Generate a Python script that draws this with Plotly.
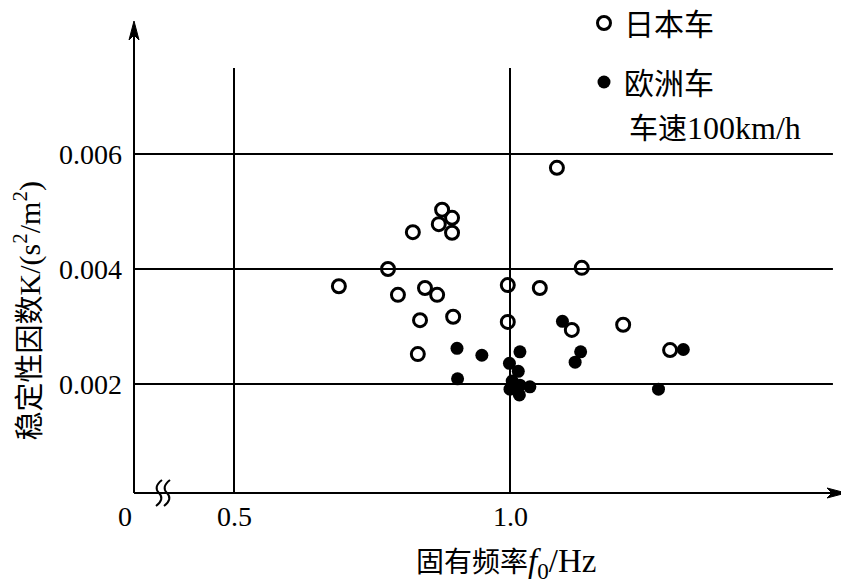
import plotly.graph_objects as go

# ---- data ----
jp_f = [0.690, 0.779, 0.797, 0.824, 0.833, 0.837, 0.846, 0.868, 0.871, 0.877, 0.895,
        0.895, 0.897, 0.996, 0.996, 1.054, 1.085, 1.112, 1.130, 1.205, 1.290]
jp_k = [0.00370, 0.00400, 0.00355, 0.00464, 0.00252, 0.00311, 0.00367, 0.00355, 0.00478,
        0.00503, 0.00463, 0.00489, 0.00317, 0.00372, 0.00308, 0.00367, 0.00576, 0.00294,
        0.00402, 0.00303, 0.00259]

eu_f = [0.904, 0.949, 0.905, 1.018, 0.999, 1.015, 1.004, 1.036, 1.000, 1.017, 1.018,
        1.095, 1.128, 1.118, 1.314, 1.269]
eu_k = [0.00262, 0.00250, 0.00209, 0.00256, 0.00236, 0.00222, 0.00205, 0.00195, 0.00191,
        0.00181, 0.00198, 0.00309, 0.00256, 0.00238, 0.00260, 0.00191]

y_ticks = [0.002, 0.004, 0.006]
y_tick_text = ["0.002", "0.004", "0.006"]
x_ticks = [0.5, 1.0]
x_tick_text = ["0.5", "1.0"]

# ---- layout constants ----
X0, X1 = 0.31884, 1.6087
Y0, Y1 = 0.0001043, 0.0083130
GRID_X_END = 1.585
GRID_Y_TOP = 0.0074957

SERIF = "Liberation Serif, Noto Sans CJK SC, serif"
BLACK = "#000000"


def latin(s, size):
    return f"<span style='font-size:{size}px'>{s}</span>"


fig = go.Figure()

fig.add_trace(go.Scatter(
    x=eu_f, y=eu_k, mode="markers", name="欧洲车", legendgroup="eu", legendrank=2,
    marker=dict(symbol="circle", size=13, color=BLACK, line=dict(width=0)),
    hoverinfo="skip"))
fig.add_trace(go.Scatter(
    x=jp_f, y=jp_k, mode="markers", name="日本车", legendgroup="jp", legendrank=1,
    marker=dict(symbol="circle-open", size=13, color=BLACK, line=dict(width=3)),
    hoverinfo="skip"))

shapes = []
# horizontal grid lines
for yv in y_ticks:
    shapes.append(dict(type="line", xref="x", yref="y", x0=X0, x1=GRID_X_END, y0=yv, y1=yv,
                       line=dict(color=BLACK, width=2), layer="below"))
# vertical grid lines
for xv in x_ticks:
    shapes.append(dict(type="line", xref="x", yref="y", x0=xv, x1=xv, y0=Y0, y1=GRID_Y_TOP,
                       line=dict(color=BLACK, width=2), layer="below"))
# axis lines
shapes.append(dict(type="line", xref="paper", yref="paper", x0=0, x1=0, y0=0, y1=0.985,
                   line=dict(color=BLACK, width=2)))
shapes.append(dict(type="line", xref="paper", yref="paper", x0=0, x1=0.985, y0=0, y1=0,
                   line=dict(color=BLACK, width=2)))
# arrowheads (pixel-sized, anchored at the axis tips)
shapes.append(dict(type="path", xref="paper", yref="paper", xsizemode="pixel", ysizemode="pixel",
                   xanchor=0, yanchor=1, path="M 0,0 L -5,-19 L 0,-14 L 5,-19 Z",
                   line=dict(color=BLACK, width=1), fillcolor=BLACK))
shapes.append(dict(type="path", xref="paper", yref="paper", xsizemode="pixel", ysizemode="pixel",
                   xanchor=1, yanchor=0, path="M 0,0 L -19,5 L -14,0 L -19,-5 Z",
                   line=dict(color=BLACK, width=1), fillcolor=BLACK))
# axis break marks
for dx in (-4, 4):
    shapes.append(dict(type="path", xref="paper", yref="paper", xsizemode="pixel",
                       ysizemode="pixel", xanchor=29 / 712, yanchor=0,
                       path=f"M {dx+3},13 Q {dx-6},6 {dx},0 Q {dx+6},-6 {dx-3},-13",
                       line=dict(color=BLACK, width=2)))

annotations = []
# tick labels
for yv, t in zip(y_ticks, y_tick_text):
    annotations.append(dict(x=X0, y=yv, xref="x", yref="y", text=t, showarrow=False,
                            xanchor="right", yanchor="middle", xshift=-10,
                            font=dict(family=SERIF, size=28, color=BLACK)))
for xv, t in zip(x_ticks, x_tick_text):
    annotations.append(dict(x=xv, y=Y0, xref="x", yref="y", text=t, showarrow=False,
                            xanchor="center", yanchor="top", yshift=-6,
                            font=dict(family=SERIF, size=28, color=BLACK)))
annotations.append(dict(x=X0, y=Y0, xref="x", yref="y", text="0", showarrow=False,
                        xanchor="center", yanchor="top", yshift=-6, xshift=-9,
                        font=dict(family=SERIF, size=28, color=BLACK)))
# axis titles
annotations.append(dict(x=-0.150, y=0.385, xref="paper", yref="paper",
                        text="稳定性因数" + latin("K/(s<sup>2</sup>/m<sup>2</sup>)", 30),
                        textangle=-90,
                        showarrow=False, xanchor="center", yanchor="middle",
                        font=dict(family=SERIF, size=29, color=BLACK)))
annotations.append(dict(x=0.522, y=-0.1504, xref="paper", yref="paper",
                        text="固有频率" + latin("<i>f</i><sub>0</sub>/Hz", 33),
                        showarrow=False, xanchor="center", yanchor="middle",
                        font=dict(family=SERIF, size=28, color=BLACK)))
# legend note
annotations.append(dict(x=0.692, y=0.773, xref="paper", yref="paper",
                        text="车速" + latin("100km/h", 32), showarrow=False,
                        xanchor="left", yanchor="middle",
                        font=dict(family=SERIF, size=29, color=BLACK)))

# the page body adds an 8px margin: the figure is drawn 8px smaller and shifted accordingly
fig.update_layout(
    width=841, height=574,
    margin=dict(l=126, r=3, t=13, b=89, autoexpand=False),
    paper_bgcolor="white", plot_bgcolor="white",
    xaxis=dict(range=[X0, X1], showgrid=False, zeroline=False, showline=False,
               showticklabels=False, ticks=""),
    yaxis=dict(range=[Y0, Y1], showgrid=False, zeroline=False, showline=False,
               showticklabels=False, ticks=""),
    showlegend=True,
    legend=dict(xref="paper", yref="paper", x=(576 - 126) / 712, y=1.0508,
                xanchor="left", yanchor="top", bgcolor="rgba(0,0,0,0)",
                traceorder="grouped", tracegroupgap=17,
                font=dict(family=SERIF, size=30, color=BLACK)),
    shapes=shapes, annotations=annotations,
)

fig.write_html("out.html")
